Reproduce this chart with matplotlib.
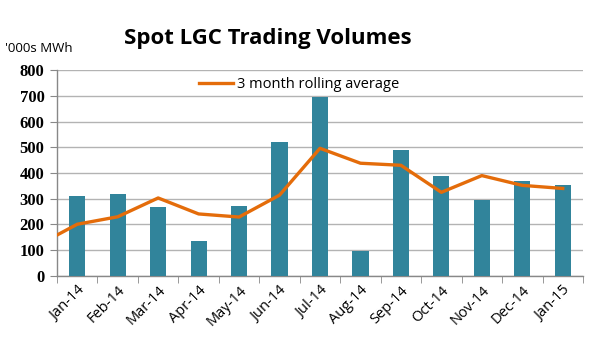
import numpy as np
import matplotlib
matplotlib.use("Agg")
import matplotlib.pyplot as plt

months = ["Jan-14", "Feb-14", "Mar-14", "Apr-14", "May-14", "Jun-14", "Jul-14",
          "Aug-14", "Sep-14", "Oct-14", "Nov-14", "Dec-14", "Jan-15"]
volumes = [311, 318, 269, 136, 272, 522, 696, 98, 490, 388, 295, 369, 353]
# rolling average, first value sits on the left axis edge (Dec-13)
rolling = [159, 201, 230, 303, 241, 229, 314, 496, 438, 430, 325, 390, 352, 340]

bar_col = "#31849B"
line_col = "#E46C0A"
grid_col = "#B3B3B3"

fig = plt.figure(figsize=(6.02, 3.61), dpi=100)
ax = fig.add_axes([0.0947, 0.2355, 0.8737, 0.5705])

x = np.arange(len(months))
ax.bar(x, volumes, width=0.4, color=bar_col, zorder=3)
xl = np.r_[-0.5, x]
ax.plot(xl, rolling, color=line_col, lw=2.4, zorder=4, solid_joinstyle="round",
        label="3 month rolling average")

ax.set_xlim(-0.5, 12.5)
ax.set_ylim(0, 800)
ax.set_yticks(np.arange(0, 801, 100))
ax.yaxis.grid(True, color=grid_col, lw=1.0, zorder=0)
ax.set_axisbelow(True)

for s in ["top", "right"]:
    ax.spines[s].set_visible(False)
for s in ["left", "bottom"]:
    ax.spines[s].set_color("#888888")
    ax.spines[s].set_linewidth(1.0)

ax.set_xticks(x)
ax.set_xticklabels(months, rotation=45, ha="right", rotation_mode="anchor",
                   fontsize=10.5, family="Open Sans")
ax.tick_params(axis="x", length=0, pad=5)
ax.set_xticks(np.arange(-0.5, 13, 1), minor=True)
ax.tick_params(axis="x", which="minor", length=5, color="#888888", direction="out")
ax.tick_params(axis="y", length=5, color="#888888", pad=4)
for lab in ax.get_yticklabels():
    lab.set_family("Liberation Serif")
    lab.set_fontsize(12)
    lab.set_fontweight("bold")

fig.text(0.445, 0.893, "Spot LGC Trading Volumes", ha="center", va="center",
         fontsize=16, fontweight="bold", family="Open Sans")
fig.text(0.008, 0.865, "'000s MWh", ha="left", va="center", fontsize=9.5,
         family="Open Sans")

ax.legend(loc="center left", bbox_to_anchor=(0.245, 0.93), frameon=False,
          handlelength=2.3, handletextpad=0.3, prop={"family": "Open Sans", "size": 10.5})

fig.savefig("out.png", dpi=100)
